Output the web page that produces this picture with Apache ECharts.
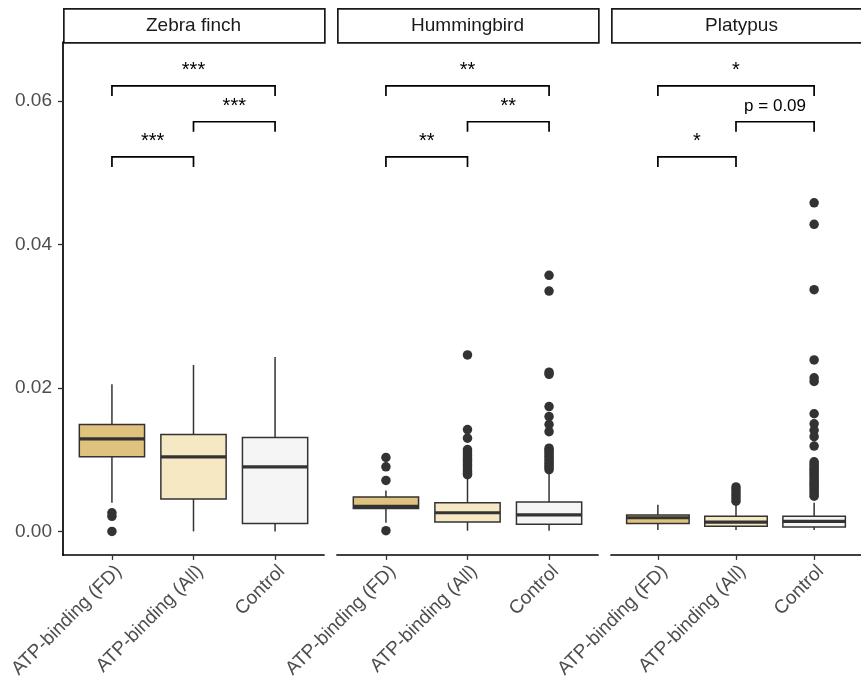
<!DOCTYPE html>
<html>
<head>
<meta charset="utf-8">
<script src="https://cdn.jsdelivr.net/npm/echarts@6/dist/echarts.min.js"></script>
<style>
  html, body { margin: 0; padding: 0; background: #fff; }
  #chart { width: 861px; height: 681px; }
</style>
</head>
<body>
<div id="chart"></div>
<script>
// Facets and groups
const facets = ['Zebra finch', 'Hummingbird', 'Platypus'];
const groups = ['ATP-binding (FD)', 'ATP-binding (All)', 'Control'];
const yTicks = [0, 0.02, 0.04, 0.06];

// Box statistics per group: [lower whisker, Q1, median, Q3, upper whisker]
const zebraStats = [
  [0.0040, 0.0104, 0.0129, 0.0149, 0.0205],
  [0.0000, 0.0045, 0.0104, 0.0135, 0.0232],
  [0.0000, 0.0011, 0.0090, 0.0131, 0.0243]
];
const hummingbirdStats = [
  [0.0012, 0.0032, 0.0035, 0.0048, 0.0057],
  [0.0001, 0.0013, 0.0026, 0.0040, 0.0074],
  [0.0001, 0.0010, 0.0023, 0.0041, 0.0084]
];
const platypusStats = [
  [0.0002, 0.0011, 0.0019, 0.0023, 0.0037],
  [0.0002, 0.0007, 0.0013, 0.0021, 0.0037],
  [0.0002, 0.0006, 0.0014, 0.0021, 0.0040]
];

// Outlying values per group
const zebraOutliers = [
  [0.0026, 0.0021, 0.0000],
  [],
  []
];
const hummingbirdOutliers = [
  [0.0103, 0.0090, 0.0071, 0.0001],
  [0.0246, 0.0142, 0.0130, 0.0114, 0.0111, 0.0108, 0.0105, 0.0102, 0.0099,
   0.0096, 0.0093, 0.0090, 0.0087, 0.0084, 0.0081, 0.0079],
  [0.0357, 0.0335, 0.0222, 0.0219, 0.0174, 0.0160, 0.0149, 0.0139, 0.0116,
   0.0113, 0.0110, 0.0107, 0.0104, 0.0101, 0.0098, 0.0095, 0.0092, 0.0089, 0.0086]
];
const platypusOutliers = [
  [],
  [0.0062, 0.0058, 0.0054, 0.0050, 0.0046, 0.0042],
  [0.0458, 0.0428, 0.0337, 0.0239, 0.0214, 0.0209, 0.0164, 0.0150, 0.0141,
   0.0132, 0.0119, 0.0097, 0.0094, 0.0091, 0.0088, 0.0085, 0.0082, 0.0079,
   0.0076, 0.0073, 0.0070, 0.0067, 0.0064, 0.0061, 0.0058, 0.0055, 0.0052, 0.0049]
];

// Pairwise comparisons (group positions), bracket heights and significance labels
const comparisons = [[1, 2], [2, 3], [1, 3]];
const bracketLevels = [0.0522, 0.0571, 0.0621];
const zebraLabels = ['***', '***', '***'];
const hummingbirdLabels = ['**', '**', '**'];
const platypusLabels = ['*', 'p = 0.09', '*'];

const groupFills = ['#DFC27D', '#F6E8C3', '#F5F5F5'];
const FONT = '"Liberation Sans", Arial, Helvetica, sans-serif';

const panelStats = [zebraStats, hummingbirdStats, platypusStats];
const panelOutliers = [zebraOutliers, hummingbirdOutliers, platypusOutliers];
const panelLabels = [zebraLabels, hummingbirdLabels, platypusLabels];

const PANEL_LEFT = 63, PANEL_W = 261, PANEL_STEP = 274, PANEL_TOP = 42, PANEL_H = 513;
const Y_MIN = -0.00328, Y_MAX = 0.06822;

const grids = [], xAxes = [], yAxes = [], series = [], graphics = [];

facets.forEach(function (name, p) {
  const left = PANEL_LEFT + PANEL_STEP * p;
  grids.push({ left: left, top: PANEL_TOP, width: PANEL_W, height: PANEL_H });

  xAxes.push({
    type: 'value', gridIndex: p, min: 0.4, max: 3.6,
    splitLine: { show: false },
    axisLine: { show: true, onZero: false, lineStyle: { color: '#000', width: 1.7 } },
    axisTick: { show: true, customValues: [1, 2, 3], length: 5, lineStyle: { color: '#333', width: 1.3 } },
    axisLabel: {
      customValues: [1, 2, 3], rotate: 45, margin: 7, verticalAlign: 'top',
      fontFamily: FONT, fontSize: 19, color: '#4d4d4d',
      formatter: function (v) {
        return Math.abs(v - Math.round(v)) < 1e-6 ? (groups[Math.round(v) - 1] || '') : '';
      }
    }
  });

  yAxes.push({
    type: 'value', gridIndex: p, min: Y_MIN, max: Y_MAX,
    splitLine: { show: false },
    axisLine: { show: p === 0, onZero: false, lineStyle: { color: '#000', width: 1.7 } },
    axisTick: { show: p === 0, customValues: yTicks, length: 5, lineStyle: { color: '#333', width: 1.3 } },
    axisLabel: {
      show: p === 0, customValues: yTicks, margin: 11,
      fontFamily: FONT, fontSize: 19, color: '#4d4d4d',
      formatter: function (v) { return v.toFixed(2); }
    }
  });

  // Facet strip
  graphics.push({
    type: 'rect', left: left, top: 8,
    shape: { width: PANEL_W, height: 34 },
    style: { fill: '#fff', stroke: '#1a1a1a', lineWidth: 1.7 }
  });
  graphics.push({
    type: 'text', x: left + PANEL_W / 2, y: 26,
    style: { text: name, fill: '#1a1a1a', font: '19px ' + FONT, textAlign: 'center', textVerticalAlign: 'middle' }
  });

  // Boxes
  const boxData = panelStats[p].map(function (s, g) { return [g + 1].concat(s); });
  series.push({
    type: 'custom', xAxisIndex: p, yAxisIndex: p, data: boxData,
    encode: { x: 0, y: [1, 2, 3, 4, 5] },
    z: 2,
    renderItem: function (params, api) {
      const x = api.value(0);
      const w = api.size([1, 0])[0] * 0.8;
      const pMin = api.coord([x, api.value(1)]);
      const pQ1 = api.coord([x, api.value(2)]);
      const pMed = api.coord([x, api.value(3)]);
      const pQ3 = api.coord([x, api.value(4)]);
      const pMax = api.coord([x, api.value(5)]);
      const cx = pMed[0];
      const lineStyle = { stroke: '#333', lineWidth: 1.5 };
      return {
        type: 'group',
        children: [
          { type: 'line', shape: { x1: cx, y1: pQ3[1], x2: cx, y2: pMax[1] }, style: lineStyle },
          { type: 'line', shape: { x1: cx, y1: pQ1[1], x2: cx, y2: pMin[1] }, style: lineStyle },
          { type: 'rect', shape: { x: cx - w / 2, y: pQ3[1], width: w, height: pQ1[1] - pQ3[1] },
            style: { fill: groupFills[params.dataIndex], stroke: '#333', lineWidth: 1.5 } },
          { type: 'line', shape: { x1: cx - w / 2, y1: pMed[1], x2: cx + w / 2, y2: pMed[1] },
            style: { stroke: '#333', lineWidth: 3.2 } }
        ]
      };
    }
  });

  // Outliers
  const pts = [];
  panelOutliers[p].forEach(function (vals, g) {
    vals.forEach(function (v) { pts.push([g + 1, v]); });
  });
  series.push({
    type: 'scatter', xAxisIndex: p, yAxisIndex: p, data: pts,
    symbol: 'circle', symbolSize: 9.5, z: 3,
    itemStyle: { color: '#333', opacity: 1 }
  });

  // Significance brackets
  const labels = panelLabels[p];
  const bracketData = comparisons.map(function (c, k) { return [c[0], c[1], bracketLevels[k]]; });
  series.push({
    type: 'custom', xAxisIndex: p, yAxisIndex: p, data: bracketData,
    encode: { x: [0, 1], y: 2 },
    z: 4, clip: false,
    renderItem: function (params, api) {
      const a = api.coord([api.value(0), api.value(2)]);
      const b = api.coord([api.value(1), api.value(2)]);
      const lbl = labels[params.dataIndex];
      const isStars = /^\*+$/.test(lbl);
      return {
        type: 'group',
        children: [
          { type: 'polyline',
            shape: { points: [[a[0], a[1] + 10], [a[0], a[1]], [b[0], b[1]], [b[0], b[1] + 10]] },
            style: { stroke: '#000', lineWidth: 1.7, fill: null } },
          { type: 'text', x: (a[0] + b[0]) / 2, y: a[1] - (isStars ? 5 : 7),
            style: { text: lbl, fill: '#000', font: (isStars ? '20px ' : '17px ') + FONT,
                     textAlign: 'center', textVerticalAlign: 'bottom' } }
        ]
      };
    }
  });
});

const chart = echarts.init(document.getElementById('chart'), null, { renderer: 'canvas' });
chart.setOption({
  animation: false,
  backgroundColor: '#fff',
  grid: grids,
  xAxis: xAxes,
  yAxis: yAxes,
  series: series,
  graphic: graphics
});
</script>
</body>
</html>
